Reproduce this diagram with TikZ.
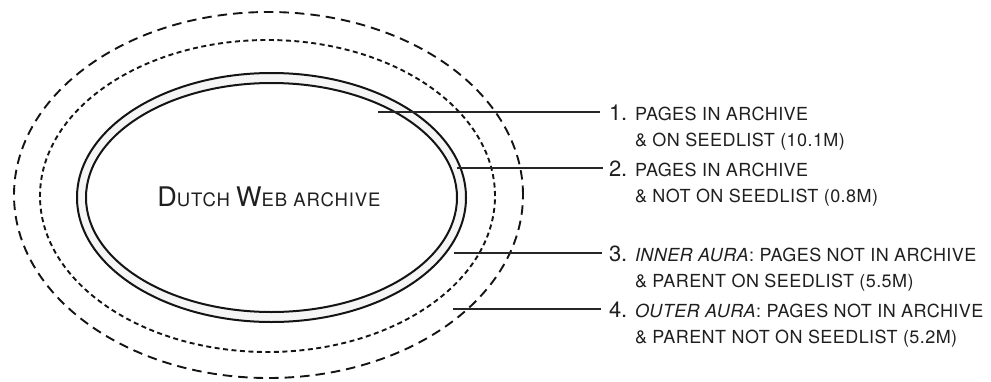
\documentclass[tikz,border=0pt]{standalone}
\usepackage{fontspec}
\setmainfont{TeX Gyre Heros}
\newcommand\smc[1]{{\fontsize{18}{18}\selectfont\addfontfeature{LetterSpace=2.4}\MakeUppercase{#1}}}
\newcommand\tsmc[1]{{\fontsize{18.5}{18}\selectfont\addfontfeature{LetterSpace=5}\MakeUppercase{#1}}}
\newcommand\bigc[1]{{\fontsize{27}{27}\selectfont\addfontfeature{LetterSpace=5}#1}}
\newcommand\numc[1]{{\fontsize{22}{22}\selectfont #1}}
\tikzset{
  txt/.style={inner sep=0pt, outer sep=0pt, anchor=base west, text=black!88},
  numtxt/.style={txt},
  ring/.style={line width=2pt, draw=black!92},
  auraA/.style={line width=1.9pt, dash pattern=on 5pt off 3.5pt, draw=black!92},
  auraB/.style={line width=1.9pt, dash pattern=on 9.5pt off 6pt, draw=black!92},
  lead/.style={line width=1.1pt, draw=black!85}
}
\begin{document}
\begin{tikzpicture}[x=1pt,y=-1pt]
\useasboundingbox (0,0) rectangle (991,381);
% ellipses
\coordinate (cA) at (268.5,195);
\coordinate (cB) at (267.5,196);
\coordinate (cS) at (271.5,197.5);
\draw[auraB] (cA) ellipse [x radius=254.5pt, y radius=183pt];
\draw[auraA] (cB) ellipse [x radius=227.5pt, y radius=156pt];
\fill[black!4, even odd rule] (cS) ellipse [x radius=194.5pt, y radius=124.5pt]
      (cS) ellipse [x radius=185.5pt, y radius=114.5pt];
\draw[ring] (cS) ellipse [x radius=194.5pt, y radius=124.5pt];
\draw[ring] (cS) ellipse [x radius=185.5pt, y radius=114.5pt];
% title
\node[txt, anchor=base] (title) at (269,206)
  {\bigc{D}\tsmc{utch }\bigc{W}\tsmc{eb archive}};
% labels
\node[numtxt] (n1) at (609,120) {\numc{1.}};
\node[txt] (t1a) at (635,120) {\smc{pages in archive}};
\node[txt] (t1b) at (635,146) {\smc{\& on seedlist (10.1M)}};
\node[numtxt] (n2) at (609,176) {\numc{2.}};
\node[txt] (t2a) at (635,176) {\smc{pages in archive}};
\node[txt] (t2b) at (635,202) {\smc{\& not on seedlist (0.8M)}};
\node[numtxt] (n3) at (609,261) {\numc{3.}};
\node[txt] (t3a) at (635,261) {\textit{\smc{inner aura}}\smc{: pages not in archive}};
\node[txt] (t3b) at (635,287) {\smc{\& parent on seedlist (5.5M)}};
\node[numtxt] (n4) at (609,317) {\numc{4.}};
\node[txt] (t4a) at (635,317) {\textit{\smc{outer aura}}\smc{: pages not in archive}};
\node[txt] (t4b) at (635,343) {\smc{\& parent not on seedlist (5.2M)}};
% leader lines
\coordinate (p1) at (378,112);
\coordinate (p2) at (457,168);
\coordinate (p3) at (454,253);
\coordinate (p4) at (453,309);
\draw[lead] (p1) -- ([xshift=-9pt]p1 -| n1.west);
\draw[lead] (p2) -- ([xshift=-6pt]p2 -| n2.west);
\draw[lead] (p3) -- ([xshift=-7pt]p3 -| n3.west);
\draw[lead] (p4) -- ([xshift=-8pt]p4 -| n4.west);
\end{tikzpicture}
\end{document}
